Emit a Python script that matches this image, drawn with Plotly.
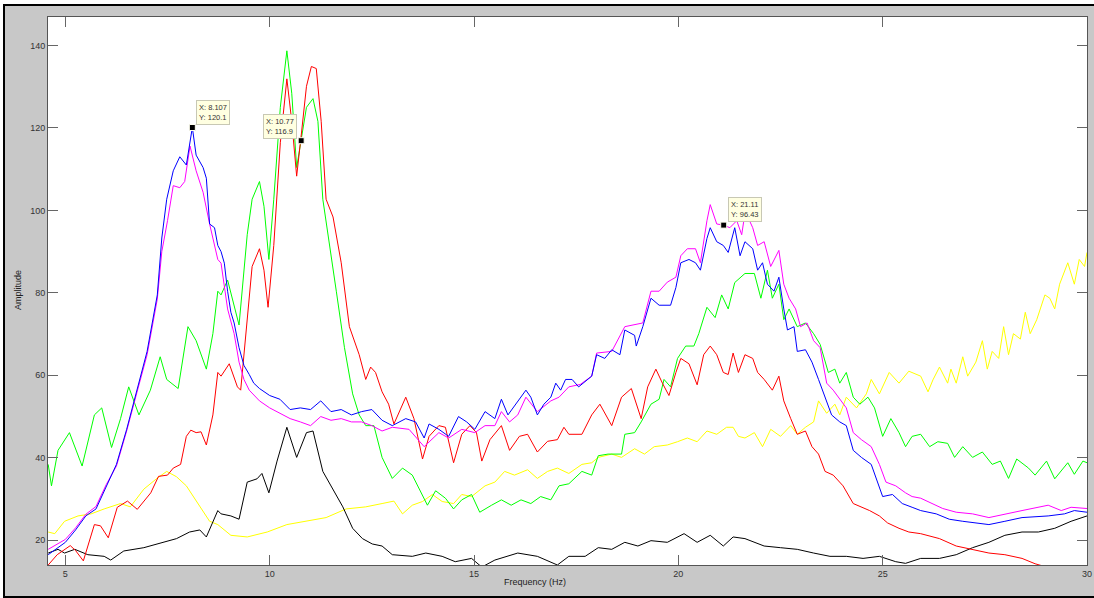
import plotly.graph_objects as go

# ---------------- data ----------------
blue_f = [4.58, 5.0, 5.25, 5.5, 5.75, 6.0, 6.25, 6.5, 6.75, 7.0, 7.25, 7.36, 7.48, 7.64, 7.80, 7.96, 8.107, 8.20, 8.37, 8.45, 8.53, 8.65, 8.73, 8.81, 8.89, 8.97, 9.05, 9.13, 9.25, 9.37, 9.50, 9.61, 9.75, 10.0, 10.25, 10.5, 10.75, 11.0, 11.25, 11.5, 11.75, 12.0, 12.25, 12.5, 12.75, 13.0, 13.33, 13.57, 13.78, 13.90, 14.14, 14.38, 14.62, 14.82, 15.02, 15.27, 15.51, 15.67, 15.83, 16.03, 16.27, 16.39, 16.55, 16.71, 16.88, 17.0, 17.12, 17.24, 17.40, 17.56, 17.72, 17.88, 18.0, 18.20, 18.37, 18.57, 18.69, 18.93, 18.97, 19.13, 19.33, 19.53, 19.81, 19.94, 20.06, 20.26, 20.42, 20.54, 20.70, 20.78, 20.94, 21.10, 21.22, 21.38, 21.51, 21.63, 21.82, 21.94, 22.06, 22.18, 22.34, 22.46, 22.58, 22.67, 22.83, 22.91, 23.11, 23.27, 23.43, 23.59, 23.75, 23.95, 24.11, 24.28, 24.48, 24.72, 24.88, 25.0, 25.24, 25.48, 25.72, 25.93, 26.31, 26.63, 26.96, 27.60, 27.99, 28.41, 29.05, 29.45, 29.69, 30.0]
blue_a = [16.5, 19.5, 22.5, 25.9, 27.6, 33.2, 38.4, 46.9, 56.4, 65.8, 79.5, 93.3, 102.7, 109.6, 113.0, 111.0, 120.1, 113.4, 110.4, 107.8, 96.7, 95.8, 91.5, 90.0, 87.2, 80.4, 75.3, 72.7, 66.7, 62.4, 60.2, 58.1, 56.8, 55.1, 54.2, 51.7, 52.1, 51.7, 53.8, 51.2, 51.7, 50.4, 51.2, 51.7, 49.1, 47.8, 49.5, 48.7, 44.8, 48.2, 46.9, 45.2, 50.0, 48.7, 46.9, 51.2, 49.5, 54.2, 50.4, 53.0, 56.4, 54.7, 50.4, 53.0, 54.7, 58.1, 56.4, 59.0, 59.0, 57.2, 58.5, 59.8, 65.0, 64.1, 66.2, 65.0, 71.0, 69.7, 67.1, 71.8, 78.7, 77.0, 77.0, 81.3, 87.3, 88.1, 87.3, 85.5, 93.2, 95.8, 92.4, 91.5, 89.8, 95.8, 89.0, 92.4, 90.7, 85.5, 87.3, 82.1, 80.4, 83.8, 76.1, 71.0, 71.8, 65.8, 66.2, 63.2, 59.0, 54.7, 50.4, 48.7, 47.8, 41.8, 40.1, 38.4, 34.1, 30.6, 31.1, 28.9, 28.0, 27.2, 26.4, 25.1, 24.6, 23.8, 24.6, 25.5, 25.9, 26.4, 27.2, 26.8]

magenta_f = [4.58, 5.0, 5.25, 5.5, 5.75, 6.0, 6.25, 6.5, 6.75, 7.0, 7.25, 7.36, 7.50, 7.64, 7.80, 7.92, 8.05, 8.20, 8.37, 8.53, 8.73, 8.81, 8.97, 9.13, 9.25, 9.37, 9.50, 9.75, 10.0, 10.25, 10.5, 10.75, 11.0, 11.25, 11.5, 11.75, 12.0, 12.25, 12.5, 12.75, 13.0, 13.41, 13.78, 14.14, 14.38, 14.70, 15.02, 15.27, 15.51, 15.67, 15.87, 16.07, 16.27, 16.55, 16.88, 17.08, 17.32, 17.60, 17.88, 18.0, 18.37, 18.69, 19.13, 19.33, 19.53, 19.73, 19.94, 20.06, 20.22, 20.42, 20.54, 20.70, 20.78, 20.94, 21.11, 21.26, 21.43, 21.55, 21.63, 21.70, 21.82, 21.94, 22.10, 22.26, 22.46, 22.58, 22.71, 22.87, 22.99, 23.15, 23.31, 23.47, 23.63, 23.79, 23.99, 24.11, 24.28, 24.48, 24.72, 24.92, 25.08, 25.32, 25.56, 25.72, 25.93, 26.23, 26.47, 26.80, 27.20, 27.60, 27.99, 28.41, 29.05, 29.37, 29.61, 30.0]
magenta_a = [17.8, 20.2, 23.0, 26.3, 28.2, 33.5, 38.0, 46.5, 55.8, 65.0, 78.5, 90.0, 97.5, 106.0, 105.5, 107.0, 115.6, 109.6, 104.4, 96.7, 88.1, 87.2, 76.1, 70.1, 63.2, 59.0, 56.4, 53.8, 52.1, 50.8, 49.5, 48.7, 47.8, 50.0, 49.1, 49.5, 48.7, 48.7, 47.8, 46.5, 47.4, 46.9, 42.7, 46.1, 44.8, 46.9, 46.1, 47.8, 47.8, 51.2, 48.7, 50.4, 54.7, 51.2, 53.8, 54.7, 57.2, 57.8, 59.8, 65.4, 65.8, 71.8, 72.7, 80.4, 80.4, 82.6, 83.8, 89.0, 90.7, 90.7, 87.3, 97.5, 101.4, 96.7, 96.43, 95.8, 97.5, 94.1, 99.3, 98.4, 95.8, 91.5, 92.4, 86.4, 90.3, 82.1, 78.7, 76.1, 71.8, 72.7, 68.4, 66.7, 58.1, 56.4, 53.8, 52.1, 46.1, 44.4, 42.7, 38.4, 34.1, 33.2, 31.5, 30.6, 30.2, 28.9, 27.7, 26.8, 26.4, 25.5, 26.4, 27.2, 28.5, 27.2, 28.0, 27.7]

green_f = [4.58, 4.66, 4.82, 5.10, 5.41, 5.71, 5.89, 6.13, 6.35, 6.55, 6.80, 7.08, 7.32, 7.48, 7.76, 8.00, 8.20, 8.45, 8.61, 8.73, 8.81, 8.97, 9.25, 9.45, 9.57, 9.75, 9.86, 9.98, 10.10, 10.26, 10.42, 10.54, 10.66, 10.77, 10.90, 11.06, 11.18, 11.30, 11.47, 11.63, 11.83, 12.03, 12.19, 12.35, 12.55, 12.75, 13.0, 13.25, 13.49, 13.70, 13.86, 14.06, 14.30, 14.50, 14.70, 14.94, 15.14, 15.43, 15.67, 15.91, 16.15, 16.39, 16.63, 16.88, 17.08, 17.32, 17.64, 17.88, 18.04, 18.28, 18.61, 18.69, 18.93, 19.09, 19.33, 19.53, 19.65, 19.81, 19.98, 20.18, 20.38, 20.50, 20.70, 20.90, 21.06, 21.22, 21.38, 21.63, 21.86, 22.02, 22.18, 22.30, 22.46, 22.58, 22.71, 22.91, 23.11, 23.31, 23.47, 23.67, 23.83, 23.95, 24.11, 24.28, 24.44, 24.64, 24.80, 25.0, 25.20, 25.40, 25.56, 25.72, 25.93, 26.15, 26.35, 26.59, 26.76, 26.96, 27.20, 27.44, 27.68, 27.88, 28.08, 28.28, 28.57, 28.73, 29.01, 29.21, 29.53, 29.69, 29.90, 30.0]
green_a = [38.4, 33.2, 41.8, 46.1, 38.0, 50.4, 52.1, 42.5, 49.5, 57.2, 50.4, 56.4, 64.5, 59.0, 56.8, 71.8, 68.4, 61.5, 70.1, 80.4, 79.5, 83.1, 72.2, 94.1, 102.7, 107.0, 101.0, 88.1, 102.7, 125.0, 138.7, 128.4, 110.4, 116.9, 125.0, 127.1, 121.6, 102.7, 90.7, 80.4, 66.7, 55.5, 50.4, 47.8, 47.8, 40.1, 35.0, 37.5, 35.8, 31.5, 28.5, 32.0, 30.2, 27.6, 29.8, 31.1, 26.8, 28.5, 29.8, 28.5, 29.8, 28.9, 30.6, 29.8, 33.2, 33.7, 36.7, 35.8, 40.5, 40.9, 40.9, 45.7, 46.1, 48.7, 53.0, 54.2, 59.0, 57.2, 64.1, 67.1, 67.1, 70.1, 76.5, 74.0, 79.5, 76.1, 82.5, 84.7, 84.7, 78.7, 85.5, 78.7, 82.1, 73.5, 76.1, 71.8, 72.7, 70.1, 67.5, 60.7, 61.5, 58.1, 60.7, 54.7, 53.0, 54.7, 52.1, 45.2, 49.5, 46.1, 42.7, 45.2, 45.7, 42.7, 43.9, 43.5, 40.1, 42.7, 40.1, 41.4, 38.4, 39.2, 35.0, 39.7, 37.5, 35.8, 39.2, 34.9, 38.8, 36.0, 39.2, 38.8]

red_f = [4.58, 4.80, 5.12, 5.25, 5.44, 5.71, 5.86, 6.05, 6.27, 6.52, 6.76, 7.09, 7.28, 7.50, 7.64, 7.82, 7.96, 8.07, 8.20, 8.32, 8.45, 8.61, 8.73, 8.81, 9.01, 9.21, 9.29, 9.41, 9.57, 9.75, 9.86, 9.96, 10.10, 10.26, 10.42, 10.54, 10.66, 10.78, 10.90, 11.02, 11.14, 11.26, 11.38, 11.55, 11.75, 11.95, 12.19, 12.35, 12.47, 12.59, 12.75, 12.91, 13.04, 13.33, 13.53, 13.74, 13.90, 14.14, 14.30, 14.50, 14.70, 14.90, 15.06, 15.19, 15.39, 15.67, 15.87, 16.11, 16.31, 16.55, 16.80, 17.04, 17.20, 17.32, 17.64, 17.88, 18.08, 18.37, 18.61, 18.85, 19.09, 19.25, 19.45, 19.61, 19.77, 19.94, 20.06, 20.26, 20.46, 20.62, 20.78, 20.94, 21.10, 21.22, 21.34, 21.47, 21.63, 21.82, 21.94, 22.10, 22.30, 22.46, 22.58, 22.75, 22.91, 23.11, 23.27, 23.43, 23.59, 23.79, 24.03, 24.28, 24.48, 24.68, 24.92, 25.12, 25.40, 25.64, 25.93, 26.39, 26.80, 27.20, 27.60, 27.99, 28.41, 28.73, 29.01]
red_a = [14.0, 16.5, 18.7, 17.5, 15.0, 23.8, 23.5, 20.6, 28.0, 29.5, 27.5, 31.5, 35.5, 35.8, 37.5, 38.4, 45.2, 46.7, 46.1, 46.3, 43.1, 50.4, 60.7, 59.8, 62.8, 57.2, 56.4, 70.1, 86.4, 90.7, 85.5, 76.5, 91.5, 116.4, 131.9, 121.6, 108.3, 119.0, 130.1, 134.9, 134.4, 121.6, 102.7, 98.4, 87.3, 71.8, 65.0, 59.0, 62.0, 60.7, 56.0, 53.0, 48.2, 54.7, 49.5, 39.7, 45.2, 47.8, 47.4, 38.8, 45.7, 47.8, 46.1, 39.2, 44.4, 47.8, 41.8, 45.2, 45.7, 41.4, 44.0, 44.4, 47.4, 45.7, 45.7, 50.4, 53.0, 47.8, 54.7, 56.8, 49.5, 57.2, 61.5, 58.1, 55.1, 60.7, 64.1, 62.8, 57.7, 65.0, 67.1, 65.0, 60.7, 60.2, 65.4, 60.7, 65.0, 64.1, 60.7, 59.0, 56.4, 59.8, 53.8, 49.5, 45.7, 46.5, 42.7, 40.9, 36.7, 35.8, 33.2, 28.9, 28.1, 27.2, 25.9, 24.2, 22.9, 22.0, 21.6, 20.4, 18.6, 17.8, 16.9, 16.5, 15.6, 14.3, 13.5]

yellow_f = [4.58, 4.74, 4.98, 5.31, 5.63, 5.95, 6.35, 6.59, 6.92, 7.24, 7.48, 7.72, 7.96, 8.29, 8.53, 8.73, 9.05, 9.45, 9.94, 10.42, 10.90, 11.38, 11.87, 12.35, 12.75, 13.04, 13.25, 13.49, 13.74, 13.98, 14.22, 14.50, 14.70, 14.94, 15.27, 15.51, 15.75, 15.99, 16.31, 16.55, 16.80, 17.04, 17.32, 17.64, 17.88, 18.04, 18.37, 18.61, 18.93, 19.17, 19.41, 19.73, 19.98, 20.22, 20.46, 20.70, 20.94, 21.18, 21.34, 21.47, 21.63, 21.86, 22.06, 22.26, 22.50, 22.75, 22.91, 23.11, 23.31, 23.43, 23.63, 23.83, 23.95, 24.11, 24.36, 24.60, 24.72, 24.92, 25.16, 25.40, 25.64, 25.93, 26.11, 26.23, 26.39, 26.59, 26.67, 26.80, 26.96, 27.08, 27.28, 27.44, 27.56, 27.68, 27.84, 27.96, 28.08, 28.20, 28.37, 28.49, 28.61, 28.77, 28.97, 29.09, 29.21, 29.33, 29.53, 29.69, 29.81, 29.94, 30.0]
yellow_a = [22.0, 21.6, 24.6, 25.9, 26.4, 27.6, 28.9, 28.1, 32.4, 35.0, 36.7, 35.4, 33.2, 28.1, 24.6, 23.8, 21.2, 20.8, 22.0, 23.8, 24.6, 25.5, 27.6, 28.1, 28.9, 29.5, 26.4, 28.5, 29.4, 31.1, 29.4, 28.9, 31.1, 30.6, 33.2, 34.1, 36.7, 35.8, 37.1, 35.0, 36.7, 37.5, 36.2, 38.4, 38.8, 40.1, 40.9, 40.1, 42.2, 40.9, 42.7, 43.1, 43.9, 44.8, 43.9, 46.5, 45.7, 47.4, 47.4, 45.2, 44.8, 46.1, 42.7, 46.9, 45.2, 47.8, 45.7, 47.4, 48.7, 53.8, 50.8, 53.0, 50.4, 54.7, 52.1, 55.5, 59.0, 55.5, 60.7, 58.1, 61.0, 59.8, 56.0, 58.9, 62.0, 58.1, 61.5, 58.1, 64.5, 59.8, 63.2, 68.4, 61.5, 65.8, 64.1, 71.8, 65.0, 70.1, 68.8, 75.3, 70.1, 73.5, 79.5, 78.7, 76.1, 82.1, 87.3, 82.1, 88.1, 86.4, 89.8]

black_f = [4.58, 4.82, 4.98, 5.23, 5.55, 5.95, 6.11, 6.43, 6.92, 7.24, 7.72, 8.04, 8.29, 8.45, 8.73, 8.81, 9.05, 9.25, 9.45, 9.69, 9.81, 9.98, 10.18, 10.42, 10.66, 10.90, 11.06, 11.30, 11.55, 11.79, 12.03, 12.27, 12.51, 12.75, 13.0, 13.49, 13.82, 14.22, 14.54, 14.94, 15.19, 15.51, 16.07, 16.55, 17.04, 17.32, 17.72, 18.04, 18.37, 18.69, 19.01, 19.33, 19.73, 20.14, 20.46, 20.78, 21.10, 21.34, 21.63, 22.10, 22.50, 22.91, 23.31, 23.71, 24.11, 24.52, 24.92, 25.32, 25.56, 25.93, 26.39, 26.80, 27.20, 27.60, 27.99, 28.41, 28.81, 29.21, 29.61, 30.0]
black_a = [16.9, 17.8, 16.9, 17.8, 16.5, 16.1, 15.2, 17.4, 18.2, 19.1, 20.4, 22.0, 22.5, 20.8, 27.2, 26.4, 25.9, 25.1, 34.1, 34.9, 36.2, 31.5, 39.2, 47.4, 40.1, 46.1, 46.5, 36.7, 32.4, 28.1, 22.9, 20.4, 19.1, 18.6, 16.5, 16.1, 16.9, 16.1, 14.8, 15.6, 13.5, 15.2, 16.9, 16.1, 14.0, 16.1, 16.1, 18.2, 17.8, 19.5, 18.6, 19.9, 19.5, 21.6, 19.5, 21.2, 18.6, 20.8, 20.4, 18.6, 18.2, 17.8, 16.9, 16.1, 16.1, 15.6, 16.1, 14.8, 14.4, 15.6, 15.6, 16.5, 18.2, 19.5, 21.2, 22.0, 22.0, 22.9, 24.6, 25.9]

tip_x = [8.107, 10.77, 21.11]
tip_y = [120.1, 116.9, 96.43]
tip_label_x = ["8.107", "10.77", "21.11"]
tip_label_y = ["120.1", "116.9", "96.43"]

x_ticks = [5, 10, 15, 20, 25, 30]
y_ticks = [20, 40, 60, 80, 100, 120, 140]

# ---------------- figure ----------------
W_FIG, H_FIG = 1094, 598
L, T, R, B = 48, 17, 7, 33
PW, PH = W_FIG - L - R, H_FIG - T - B


def xp(px):
    return (px - L) / PW


def yp(py):
    return 1 - (py - T) / PH


fig = go.Figure()

series = [
    (yellow_f, yellow_a, "#ffff00"),
    (black_f, black_a, "#000000"),
    (green_f, green_a, "#00ff00"),
    (red_f, red_a, "#ff0000"),
    (magenta_f, magenta_a, "#ff00ff"),
    (blue_f, blue_a, "#0000ff"),
]
for fx, ay, col in series:
    fig.add_trace(go.Scatter(x=fx, y=ay, mode="lines",
                             line=dict(color=col, width=1),
                             showlegend=False, hoverinfo="skip"))

fig.add_trace(go.Scatter(x=tip_x, y=tip_y, mode="markers",
                         marker=dict(symbol="square", size=6, color="#000000",
                                     line=dict(color="#fffff0", width=1)),
                         showlegend=False, hoverinfo="skip"))

tip_pos = [("left", 4, 3), ("right", -4, 2), ("left", 4, 3)]
for i in range(len(tip_x)):
    xa, xs, ys = tip_pos[i]
    fig.add_annotation(x=tip_x[i], y=tip_y[i], xref="x", yref="y",
                       text="X: %s<br>Y: %s" % (tip_label_x[i], tip_label_y[i]),
                       showarrow=False, xanchor=xa, yanchor="bottom",
                       xshift=xs, yshift=ys, align="left",
                       font=dict(family="Liberation Sans, Arial", size=7.5, color="#333333"),
                       bgcolor="#ffffe1", bordercolor="#c8c8b4", borderwidth=1, borderpad=2)

# axis titles
fig.add_annotation(x=xp(535), y=yp(582), xref="paper", yref="paper",
                   text="Frequency (Hz)", showarrow=False,
                   xanchor="center", yanchor="middle",
                   font=dict(family="Liberation Sans, Arial", size=9, color="#222222"))
fig.add_annotation(x=xp(18), y=yp(290), xref="paper", yref="paper",
                   text="Amplitude", showarrow=False, textangle=-90,
                   xanchor="center", yanchor="middle",
                   font=dict(family="Liberation Sans, Arial", size=9, color="#222222"))

# outer frame: white margin and black border
shapes = [
    dict(type="rect", xref="paper", yref="paper", x0=xp(0), x1=xp(W_FIG), y0=yp(0), y1=yp(4),
         fillcolor="#ffffff", line=dict(width=0)),
    dict(type="rect", xref="paper", yref="paper", x0=xp(0), x1=xp(3), y0=yp(0), y1=yp(H_FIG),
         fillcolor="#ffffff", line=dict(width=0)),
    dict(type="rect", xref="paper", yref="paper", x0=xp(3), x1=xp(W_FIG), y0=yp(4), y1=yp(6),
         fillcolor="#000000", line=dict(width=0)),
    dict(type="rect", xref="paper", yref="paper", x0=xp(3), x1=xp(5), y0=yp(4), y1=yp(H_FIG),
         fillcolor="#000000", line=dict(width=0)),
    dict(type="rect", xref="paper", yref="paper", x0=xp(3), x1=xp(W_FIG), y0=yp(596), y1=yp(H_FIG),
         fillcolor="#000000", line=dict(width=0)),
]

axis_common = dict(showgrid=False, zeroline=False, ticks="inside", ticklen=10,
                   tickcolor="#666666", tickwidth=1, showline=True, linecolor="#555555",
                   linewidth=1, mirror="ticks",
                   tickfont=dict(family="Liberation Sans, Arial", size=9, color="#333333"))

fig.update_layout(
    width=W_FIG, height=H_FIG,
    margin=dict(l=L, r=R, t=T, b=B, autoexpand=False),
    paper_bgcolor="#c8c8c8", plot_bgcolor="#ffffff",
    shapes=shapes,
    xaxis=dict(range=[4.575, 30], tickvals=x_ticks, ticktext=[str(v) for v in x_ticks], **axis_common),
    yaxis=dict(range=[14, 146.9], tickvals=y_ticks, ticktext=[str(v) for v in y_ticks], **axis_common),
)

fig.write_html("out.html",
               config={"displayModeBar": False},
               post_script="document.body.style.margin='0px';"
                           "document.body.style.padding='0px';"
                           "document.body.style.overflow='hidden';")
